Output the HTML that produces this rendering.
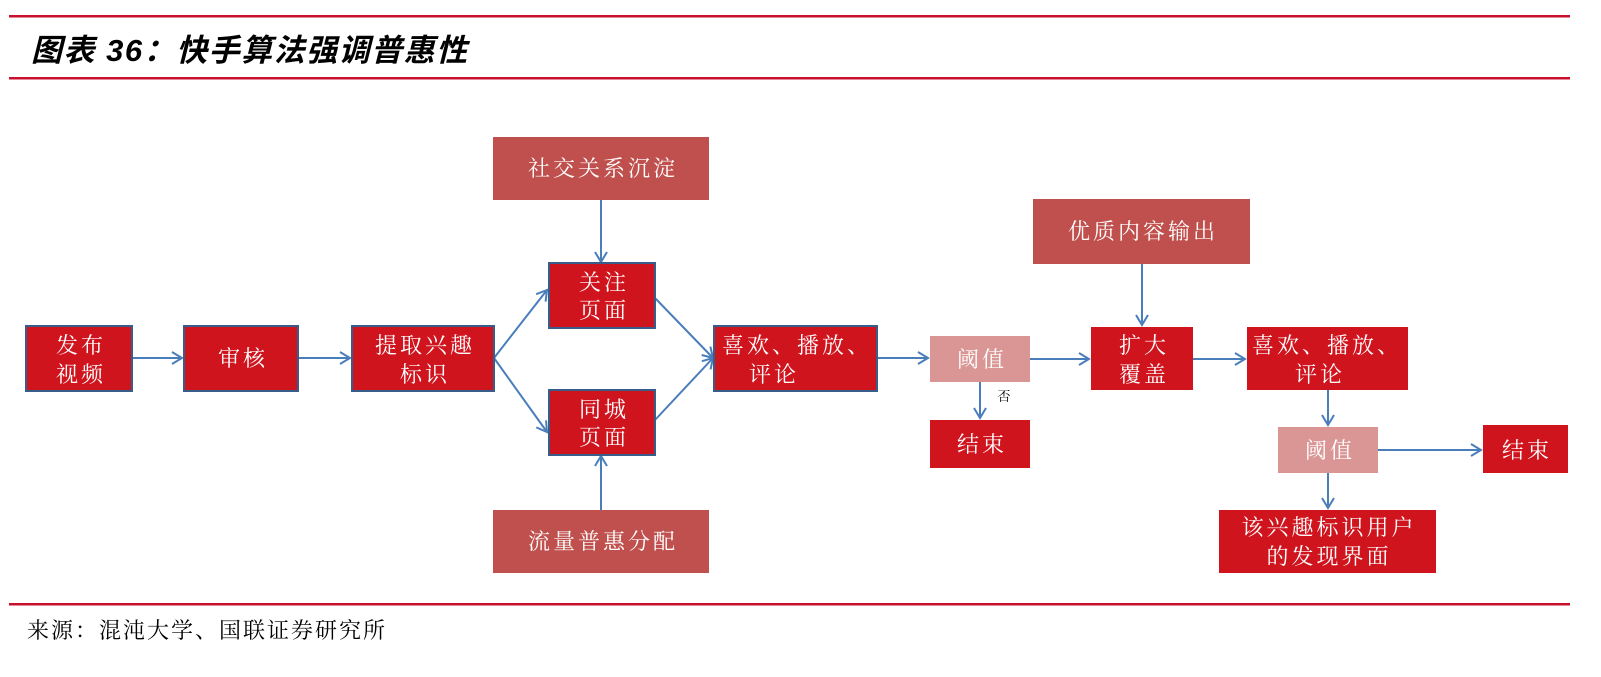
<!DOCTYPE html>
<html><head><meta charset="utf-8"><style>
html,body{margin:0;padding:0;background:#fff;}
svg{display:block;}
.t{font-family:"Liberation Serif","Noto Serif CJK SC",serif;fill:#fff;font-size:22px;letter-spacing:3px;text-anchor:middle;}
</style></head><body>
<svg width="1601" height="677" viewBox="0 0 1601 677" xmlns="http://www.w3.org/2000/svg">
<defs>
<marker id="a" markerWidth="14" markerHeight="14" refX="11" refY="7" orient="auto" markerUnits="userSpaceOnUse">
<path d="M1,1 L11,7 L1,13" fill="none" stroke="#4A7EBB" stroke-width="2"/>
</marker>
</defs>
<rect x="9" y="15" width="1561" height="2.5" fill="#C8102E"/>
<rect x="9" y="77" width="1561" height="2.5" fill="#C8102E"/>
<rect x="9" y="603" width="1561" height="2.5" fill="#C8102E"/>
<text x="31" y="61" style="font-family:'Liberation Sans','Noto Sans CJK SC',sans-serif;font-size:31px;letter-spacing:1.5px;font-weight:bold;font-style:italic;fill:#000">图表 36：快手算法强调普惠性</text>
<text x="27" y="638" style="font-family:'Liberation Serif','Noto Serif CJK SC',serif;font-size:22px;letter-spacing:2px;fill:#000">来源：混沌大学、国联证券研究所</text>

<g stroke="#4A7EBB" stroke-width="2" fill="none" marker-end="url(#a)">
<line x1="132" y1="358" x2="182" y2="358"/>
<line x1="298" y1="358" x2="350" y2="358"/>
<line x1="494" y1="358" x2="547" y2="290"/>
<line x1="494" y1="358" x2="547" y2="432"/>
<line x1="655" y1="298" x2="713" y2="358"/>
<line x1="655" y1="420" x2="713" y2="358"/>
<line x1="601" y1="200" x2="601" y2="262"/>
<line x1="601" y1="510" x2="601" y2="456"/>
<line x1="877" y1="358" x2="928" y2="358"/>
<line x1="1030" y1="359" x2="1089" y2="359"/>
<line x1="980" y1="382" x2="980" y2="418"/>
<line x1="1142" y1="264" x2="1142" y2="325"/>
<line x1="1193" y1="359" x2="1245" y2="359"/>
<line x1="1328" y1="390" x2="1328" y2="425"/>
<line x1="1378" y1="450" x2="1481" y2="450"/>
<line x1="1328" y1="473" x2="1328" y2="508"/>
</g>

<g stroke="#385D8A" stroke-width="2" fill="#D0141E">
<rect x="26" y="326" width="106" height="65"/>
<rect x="184" y="326" width="114" height="65"/>
<rect x="352" y="326" width="142" height="65"/>
<rect x="549" y="263" width="106" height="65"/>
<rect x="549" y="390" width="106" height="65"/>
<rect x="714" y="326" width="163" height="65"/>
</g>
<g fill="#D0141E">
<rect x="1091" y="327" width="102" height="63"/>
<rect x="1247" y="327" width="161" height="63"/>
<rect x="930" y="420" width="100" height="48"/>
<rect x="1483" y="425" width="85" height="48"/>
<rect x="1219" y="510" width="217" height="63"/>
</g>
<g fill="#C0504D">
<rect x="493" y="137" width="216" height="63"/>
<rect x="493" y="510" width="216" height="63"/>
<rect x="1033" y="199" width="217" height="65"/>
</g>
<g fill="#D99694">
<rect x="930" y="336" width="100" height="46"/>
<rect x="1278" y="427" width="100" height="46"/>
</g>

<text class="t" x="81" y="353">发布</text><text class="t" x="81" y="382">视频</text>
<text class="t" x="243" y="366">审核</text>
<text class="t" x="425" y="353">提取兴趣</text><text class="t" x="425" y="382">标识</text>
<text class="t" x="604" y="290">关注</text><text class="t" x="604" y="318">页面</text>
<text class="t" x="604" y="417">同城</text><text class="t" x="604" y="445">页面</text>
<text class="t" x="797" y="353">喜欢、播放、</text><text class="t" x="774" y="382">评论</text>
<text class="t" x="603" y="176">社交关系沉淀</text>
<text class="t" x="603" y="549">流量普惠分配</text>
<text class="t" x="1143" y="239">优质内容输出</text>
<text class="t" x="982" y="367">阈值</text>
<text class="t" x="982" y="452">结束</text>
<text x="1004" y="401" style="font-family:'Liberation Serif','Noto Serif CJK SC',serif;font-size:13px;fill:#000;text-anchor:middle">否</text>
<text class="t" x="1144" y="353">扩大</text><text class="t" x="1144" y="382">覆盖</text>
<text class="t" x="1327" y="353">喜欢、播放、</text><text class="t" x="1320" y="382">评论</text>
<text class="t" x="1330" y="458">阈值</text>
<text class="t" x="1527" y="458">结束</text>
<text class="t" x="1329" y="535">该兴趣标识用户</text><text class="t" x="1329" y="564">的发现界面</text>
</svg>
</body></html>
